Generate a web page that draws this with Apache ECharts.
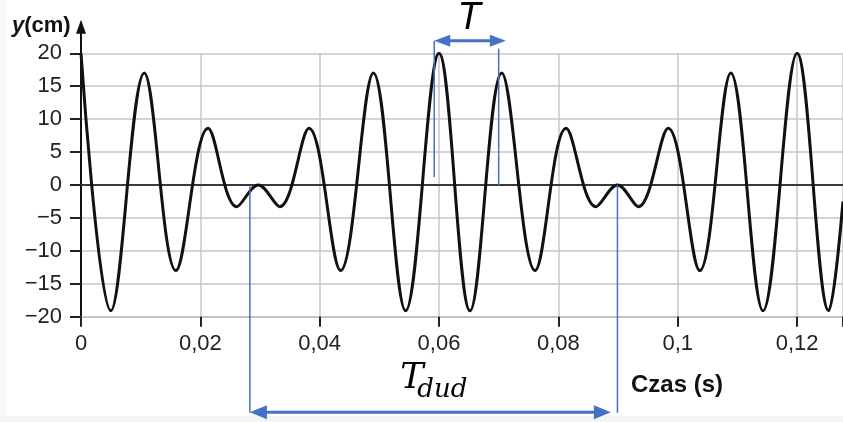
<!DOCTYPE html>
<html><head><meta charset="utf-8">
<script src="https://cdn.jsdelivr.net/npm/echarts@6/dist/echarts.min.js"></script>
<style>html,body{margin:0;padding:0;background:#fff}#c{width:843px;height:422px}</style>
</head><body><div id="c"></div>
<script>
// ---- data: the curve's turning points (and its value at the right edge) ----
const timeS = [0, 0.0050, 0.0106, 0.0159, 0.0213, 0.0261, 0.0297, 0.0333, 0.0382, 0.0435,
  0.0490, 0.0544, 0.0600, 0.0652, 0.0705, 0.0761, 0.0813, 0.0863, 0.0899, 0.0934,
  0.0984, 0.1037, 0.1089, 0.1143, 0.1200, 0.1253, 0.1277];
const displacementCm = [20, -19.1, 17, -13, 8.6, -3.3, 0, -3.3, 8.6, -13,
  17, -19.1, 20, -19.1, 17, -13, 8.6, -3.3, 0, -3.3,
  8.6, -13, 17, -19.1, 20, -19.1, -2.5];
const xTickValues = [0, 0.02, 0.04, 0.06, 0.08, 0.1, 0.12];
const xTickLabels = ['0', '0,02', '0,04', '0,06', '0,08', '0,1', '0,12'];
const yTickLabels = {'20':'20','15':'15','10':'10','5':'5','0':'0','-5':'\u22125','-10':'\u221210','-15':'\u221215','-20':'\u221220'};
const xRange = [0, 0.1277];
const yRange = [-20, 20];
// annotations (data units: seconds, cm)
const periodLines = [0.0592, 0.0700];
const periodArrow = {from: 0.0592, to: 0.0712, y: 21.9};
const periodLineBottoms = [1.2, 0];
const beatLines = [0.0283, 0.0899];
const beatArrow = {from: 0.0283, to: 0.0888, y: -34.5};
const beatLineTop = -0.2;
const yAxisArrowTop = 25.1;

const BLUE = '#4472C4';
const chart = echarts.init(document.getElementById('c'), null, {renderer: 'canvas'});
const seriesData = timeS.map((t, i) => [t, displacementCm[i]]);

chart.setOption({
  backgroundColor: '#ffffff',
  animation: false,
  grid: {left: 81, right: 0, top: 53.3, bottom: 105.3, containLabel: false, outerBoundsMode: 'none'},
  xAxis: {
    type: 'value', min: xRange[0], max: xRange[1], interval: 0.02,
    axisLine: {show: true, onZero: false, lineStyle: {color: '#bdbdbd', width: 1.5}},
    axisTick: {show: true, length: 10, lineStyle: {color: '#222', width: 2}},
    axisLabel: {
      margin: 16, color: '#222', fontSize: 22, fontFamily: 'Liberation Sans',
      formatter: v => { const i = xTickValues.findIndex(x => Math.abs(x - v) < 1e-6); return i >= 0 ? xTickLabels[i] : ''; }
    },
    splitLine: {show: true, lineStyle: {color: '#c6c6c6', width: 1.5}}
  },
  yAxis: {
    type: 'value', min: yRange[0], max: yRange[1], interval: 5,
    axisLine: {show: true, onZero: false, lineStyle: {color: '#111', width: 2}},
    axisTick: {show: true, length: 11, lineStyle: {color: '#222', width: 2}},
    axisLabel: {
      margin: 19, color: '#222', fontSize: 22, fontFamily: 'Liberation Sans',
      formatter: v => yTickLabels[String(v)] ?? ''
    },
    splitLine: {show: true, lineStyle: {color: '#c6c6c6', width: 1.5}}
  },
  series: [{
    type: 'line', data: seriesData, smooth: 0.364, showSymbol: false, symbol: 'none',
    lineStyle: {color: '#111', width: 3}, clip: true, z: 5,
    markLine: {
      silent: true, symbol: ['none', 'none'], label: {show: false},
      lineStyle: {color: '#3a3a3a', width: 2, type: 'solid'},
      emphasis: {disabled: true},
      data: [{yAxis: 0}], z: 3
    }
  }]
});

function px(x, y) { return chart.convertToPixel({gridIndex: 0}, [x, y]); }
function arrowH(x1, x2, y, headLen, headHalf, w) {
  const a = px(x1, y), b = px(x2, y);
  return [
    {type: 'line', shape: {x1: a[0] + headLen - 2, y1: a[1], x2: b[0] - headLen + 2, y2: b[1]}, style: {stroke: BLUE, lineWidth: w}, z: 20},
    {type: 'polygon', shape: {points: [[a[0], a[1]], [a[0] + headLen, a[1] - headHalf], [a[0] + headLen, a[1] + headHalf]]}, style: {fill: BLUE}, z: 20},
    {type: 'polygon', shape: {points: [[b[0], b[1]], [b[0] - headLen, b[1] - headHalf], [b[0] - headLen, b[1] + headHalf]]}, style: {fill: BLUE}, z: 20}
  ];
}
function vline(x, y1, y2) {
  const a = px(x, y1), b = px(x, y2);
  return {type: 'line', shape: {x1: a[0], y1: a[1], x2: b[0], y2: b[1]}, style: {stroke: BLUE, lineWidth: 1.5}, z: 19};
}

const g = [];
// faint frame of the original picture
g.push({type: 'rect', shape: {x: 0, y: 0, width: 7, height: 422}, style: {fill: '#f9f9f9'}, z: 0, silent: true});
g.push({type: 'rect', shape: {x: 0, y: 416, width: 843, height: 6}, style: {fill: '#f4f4f4'}, z: 0, silent: true});
// y-axis arrow
const ya = px(0, yRange[1]), yt = px(0, yAxisArrowTop);
g.push({type: 'line', shape: {x1: ya[0], y1: ya[1], x2: yt[0], y2: yt[1] + 10}, style: {stroke: '#111', lineWidth: 2}, z: 20});
g.push({type: 'polygon', shape: {points: [[yt[0], yt[1]], [yt[0] - 5, yt[1] + 14], [yt[0] + 5, yt[1] + 14]]}, style: {fill: '#111'}, z: 20});
// period T
g.push(vline(periodLines[0], periodArrow.y, periodLineBottoms[0]));
g.push(vline(periodLines[1], periodArrow.y - 1.2, periodLineBottoms[1]));
g.push(...arrowH(periodArrow.from, periodArrow.to, periodArrow.y, 16, 6, 3));
const pm = px((periodArrow.from + periodArrow.to) / 2, periodArrow.y);
g.push({type: 'text', x: pm[0] - 1, y: pm[1] - 22, style: {text: 'T', font: 'italic 38px "Liberation Sans"', fill: '#000', align: 'center', verticalAlign: 'middle'}, z: 21});
// beat period T_dud
g.push(vline(beatLines[0], beatLineTop, beatArrow.y - 0.1));
g.push(vline(beatLines[1], 0, beatArrow.y - 0.1));
g.push(...arrowH(beatArrow.from, beatArrow.to, beatArrow.y, 17, 7, 3));
const bm = px((beatArrow.from + beatArrow.to) / 2, beatArrow.y);
g.push({type: 'text', x: bm[0] - 30, y: bm[1] - 33, style: {text: 'T', font: 'italic 35px "DejaVu Serif"', fill: '#000', align: 'left', verticalAlign: 'middle'}, z: 21});
g.push({type: 'text', x: bm[0] - 13, y: bm[1] - 22, style: {text: 'dud', font: 'italic 26px "DejaVu Serif"', fill: '#000', align: 'left', verticalAlign: 'middle'}, z: 21});
// axis titles
g.push({type: 'text', x: 12, y: 26, style: {text: '{i|y}{b|(cm)}', rich: {i: {font: 'italic bold 22px "Liberation Sans"', fill: '#111'}, b: {font: 'bold 22px "Liberation Sans"', fill: '#111'}}, verticalAlign: 'middle'}, z: 21});
g.push({type: 'text', x: 677, y: 385, style: {text: 'Czas (s)', font: 'bold 24px "Liberation Sans"', fill: '#111', align: 'center', verticalAlign: 'middle'}, z: 21});

chart.setOption({graphic: {elements: g}});
</script>
</body></html>
